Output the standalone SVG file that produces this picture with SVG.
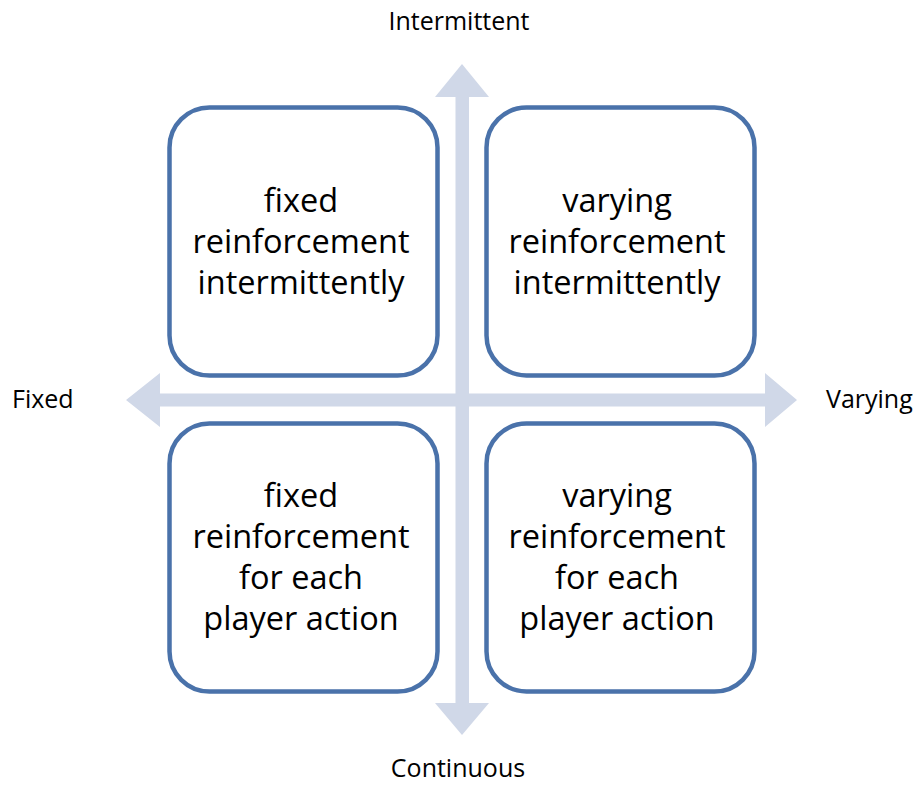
<svg xmlns="http://www.w3.org/2000/svg" width="918" height="785" viewBox="0 0 918 785">
<style>
.box{fill:#fff;stroke:#4a72aa;stroke-width:4.5}
.arr{fill:#d0d8e8;stroke:none}
.t{font-family:"Open Sans","Noto Sans","Liberation Sans",sans-serif;font-size:32.5px;fill:#000;text-anchor:middle}
.ax{font-family:"Open Sans","Noto Sans","Liberation Sans",sans-serif;font-size:25px;fill:#000}
</style>
<rect width="918" height="785" fill="#fff"/>
<g id="connectors">
<polygon class="arr" points="462,64 489,97 469,97 469,703 489,703 462,735 435,703 455.5,703 455.5,97 435,97"/>
<polygon class="arr" points="126,400 160,373 160,393.5 765,393.5 765,373 797,400 765,427 765,406.5 160,406.5 160,427"/>
</g>
<g id="node-tl">
<rect class="box" x="169.5" y="107.5" width="268" height="268" rx="40"/>
<text class="t" x="301" y="212">fixed</text>
<text class="t" x="301" y="253">reinforcement</text>
<text class="t" x="301" y="294">intermittently</text>
</g>
<g id="node-tr">
<rect class="box" x="486.5" y="107.5" width="268" height="268" rx="40"/>
<text class="t" x="617" y="212">varying</text>
<text class="t" x="617" y="253">reinforcement</text>
<text class="t" x="617" y="294">intermittently</text>
</g>
<g id="node-bl">
<rect class="box" x="169.5" y="423.5" width="268" height="268" rx="40"/>
<text class="t" x="301" y="507">fixed</text>
<text class="t" x="301" y="548">reinforcement</text>
<text class="t" x="301" y="589">for each</text>
<text class="t" x="301" y="630">player action</text>
</g>
<g id="node-br">
<rect class="box" x="486.5" y="423.5" width="268" height="268" rx="40"/>
<text class="t" x="617" y="507">varying</text>
<text class="t" x="617" y="548">reinforcement</text>
<text class="t" x="617" y="589">for each</text>
<text class="t" x="617" y="630">player action</text>
</g>
<g id="labels">
<text class="ax" x="459" y="30" text-anchor="middle">Intermittent</text>
<text class="ax" x="458" y="777" text-anchor="middle">Continuous</text>
<text class="ax" x="12" y="408">Fixed</text>
<text class="ax" x="826" y="408">Varying</text>
</g>
</svg>
